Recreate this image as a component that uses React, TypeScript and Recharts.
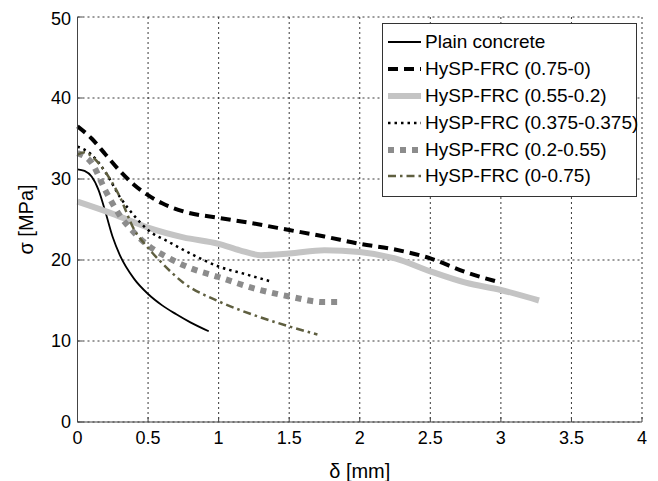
import React from "react";
import { LineChart, Line, XAxis, YAxis, CartesianGrid, Legend, Label } from "recharts";

// δ [mm] -> σ [MPa]
const plainConcrete = [
  { x: 0, y: 31.2 }, { x: 0.05, y: 31.0 }, { x: 0.1, y: 30.3 }, { x: 0.15, y: 28.6 },
  { x: 0.2, y: 25.8 }, { x: 0.25, y: 22.8 }, { x: 0.3, y: 20.6 }, { x: 0.4, y: 17.7 },
  { x: 0.5, y: 15.8 }, { x: 0.6, y: 14.4 }, { x: 0.7, y: 13.3 }, { x: 0.8, y: 12.3 },
  { x: 0.93, y: 11.2 },
];
const frc075_0 = [
  { x: 0, y: 36.5 }, { x: 0.1, y: 35.0 }, { x: 0.2, y: 33.0 }, { x: 0.3, y: 31.0 },
  { x: 0.4, y: 29.3 }, { x: 0.5, y: 28.0 }, { x: 0.6, y: 27.0 }, { x: 0.75, y: 26.0 },
  { x: 1, y: 25.2 }, { x: 1.25, y: 24.5 }, { x: 1.5, y: 23.7 }, { x: 1.75, y: 22.9 },
  { x: 2, y: 22.0 }, { x: 2.25, y: 21.3 }, { x: 2.5, y: 20.2 }, { x: 2.75, y: 18.5 },
  { x: 3, y: 17.2 },
];
const frc055_02 = [
  { x: 0, y: 27.2 }, { x: 0.25, y: 25.7 }, { x: 0.5, y: 24.0 }, { x: 0.75, y: 22.8 },
  { x: 1, y: 22.0 }, { x: 1.15, y: 21.2 }, { x: 1.3, y: 20.6 }, { x: 1.5, y: 20.8 },
  { x: 1.75, y: 21.2 }, { x: 2, y: 21.0 }, { x: 2.25, y: 20.2 }, { x: 2.5, y: 18.6 },
  { x: 2.75, y: 17.2 }, { x: 3, y: 16.3 }, { x: 3.27, y: 15.0 },
];
const frc0375 = [
  { x: 0, y: 34.0 }, { x: 0.1, y: 33.0 }, { x: 0.2, y: 30.8 }, { x: 0.3, y: 27.8 },
  { x: 0.4, y: 25.5 }, { x: 0.5, y: 23.7 }, { x: 0.65, y: 22.2 }, { x: 0.8, y: 20.8 },
  { x: 1, y: 19.2 }, { x: 1.2, y: 18.2 }, { x: 1.38, y: 17.3 },
];
const frc02_055 = [
  { x: 0, y: 33.2 }, { x: 0.1, y: 32.0 }, { x: 0.2, y: 28.5 }, { x: 0.3, y: 25.5 },
  { x: 0.4, y: 23.4 }, { x: 0.5, y: 21.8 }, { x: 0.63, y: 20.4 }, { x: 0.8, y: 19.0 },
  { x: 1, y: 17.9 }, { x: 1.25, y: 16.5 }, { x: 1.5, y: 15.5 }, { x: 1.75, y: 14.8 },
  { x: 1.84, y: 14.8 },
];
const frc0_075 = [
  { x: 0, y: 33.0 }, { x: 0.05, y: 33.3 }, { x: 0.1, y: 32.8 }, { x: 0.2, y: 30.8 },
  { x: 0.3, y: 27.8 }, { x: 0.4, y: 23.8 }, { x: 0.5, y: 21.5 }, { x: 0.6, y: 19.6 },
  { x: 0.75, y: 17.2 }, { x: 1, y: 14.9 }, { x: 1.25, y: 13.2 }, { x: 1.5, y: 11.8 },
  { x: 1.7, y: 10.8 },
];

const xTicks = [0, 0.5, 1, 1.5, 2, 2.5, 3, 3.5, 4];
const yTicks = [0, 10, 20, 30, 40, 50];

const series = [
  { name: "Plain concrete", data: plainConcrete, color: "#000000", width: 1.8, dash: undefined },
  { name: "HySP-FRC (0.75-0)", data: frc075_0, color: "#000000", width: 4, dash: "10 6" },
  { name: "HySP-FRC (0.55-0.2)", data: frc055_02, color: "#c4c4c4", width: 6, dash: undefined },
  { name: "HySP-FRC (0.375-0.375)", data: frc0375, color: "#000000", width: 2.5, dash: "2.5 4" },
  { name: "HySP-FRC (0.2-0.55)", data: frc02_055, color: "#8c8c8c", width: 6, dash: "6 6" },
  { name: "HySP-FRC (0-0.75)", data: frc0_075, color: "#5f5f40", width: 2.5, dash: "8 4 2.5 4" },
];

const font = "'Liberation Sans', Arial, sans-serif";

const LegendBox = () => (
  <div
    style={{
      border: "1px solid #333",
      background: "#fff",
      padding: "5px 0 6px 5px",
      width: 248,
      fontFamily: font,
      fontSize: 19,
      color: "#000",
      boxSizing: "content-box",
    }}
  >
    {series.map((s) => (
      <div key={s.name} style={{ display: "flex", alignItems: "center", height: 26.8 }}>
        <svg width={34} height={10} style={{ marginRight: 3, flexShrink: 0 }}>
          <line x1={0} y1={5} x2={33} y2={5} stroke={s.color} strokeWidth={s.width} strokeDasharray={s.dash} />
        </svg>
        <span style={{ whiteSpace: "nowrap" }}>{s.name}</span>
      </div>
    ))}
  </div>
);

export default function App() {
  return (
    <div style={{ width: 642, height: 473, background: "#fff" }}>
      <LineChart width={642} height={473} margin={{ top: 9, right: 8, left: 9.5, bottom: 19 }}>
        <CartesianGrid stroke="#222" strokeDasharray="2 3" strokeWidth={0.9} horizontalValues={yTicks} verticalValues={xTicks} />
        <XAxis
          dataKey="x"
          type="number"
          domain={[0, 4]}
          ticks={xTicks}
          allowDuplicatedCategory={false}
          height={40}
          stroke="#444"
          tickSize={-5}
          tickMargin={14}
          tick={{ fill: "#000", fontSize: 18, fontFamily: font }}
        >
          <Label
            content={({ viewBox }: any) => (
              <text x={viewBox.x + viewBox.width / 2} y={viewBox.y + 49} textAnchor="middle" dominantBaseline="central" fontSize={20} fontFamily={font}>
                δ [mm]
              </text>
            )}
          />
        </XAxis>
        <XAxis xAxisId="top" orientation="top" type="number" dataKey="x" domain={[0, 4]} ticks={xTicks} height={0} tick={false} tickSize={-5} stroke="#444" />
        <YAxis
          type="number"
          domain={[0, 50]}
          ticks={yTicks}
          width={60}
          stroke="#444"
          tickSize={-5}
          tickMargin={11.5}
          tick={{ fill: "#000", fontSize: 18, fontFamily: font }}
        >
          <Label
            content={({ viewBox }: any) => {
              const cx = viewBox.x + 8;
              const cy = viewBox.y + viewBox.height / 2;
              return (
                <text x={cx} y={cy} transform={`rotate(-90 ${cx} ${cy})`} textAnchor="middle" dominantBaseline="central" fontSize={20} fontFamily={font}>
                  σ [MPa]
                </text>
              );
            }}
          />
        </YAxis>
        <YAxis yAxisId="right" orientation="right" type="number" domain={[0, 50]} ticks={yTicks} width={0} tick={false} tickSize={-5} stroke="#444" />
        <Legend
          layout="vertical"
          align="center"
          verticalAlign="middle"
          content={() => <LegendBox />}
          wrapperStyle={{ position: "absolute", left: 374, top: 15, width: "auto", height: "auto" }}
        />
        {series.map((s) => (
          <Line
            key={s.name}
            data={s.data}
            dataKey="y"
            name={s.name}
            type="monotone"
            stroke={s.color}
            strokeWidth={s.width}
            strokeDasharray={s.dash}
            dot={false}
            activeDot={false}
            isAnimationActive={false}
          />
        ))}
      </LineChart>
    </div>
  );
}
